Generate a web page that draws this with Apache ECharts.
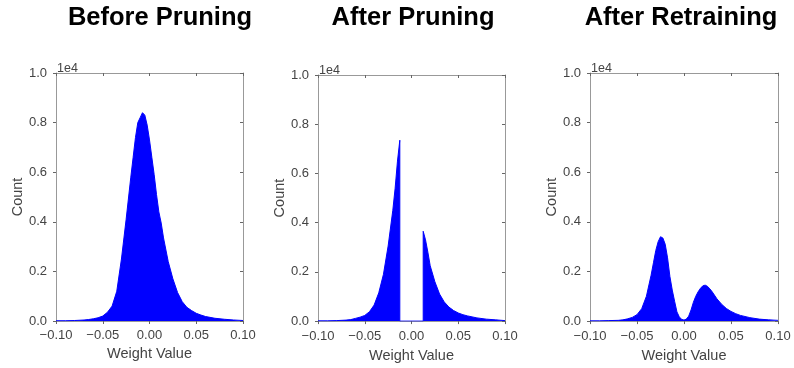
<!DOCTYPE html>
<html>
<head>
<meta charset="utf-8">
<script src="https://cdn.jsdelivr.net/npm/echarts@6/dist/echarts.min.js"></script>
<style>
  html, body { margin: 0; padding: 0; background: #fff; }
  #chart { width: 794px; height: 368px; }
</style>
</head>
<body>
<div id="chart"></div>
<script>
// ---- Data (counts in units of 1e4) ----
const panelTitles = ['Before Pruning', 'After Pruning', 'After Retraining'];
const xTickLabels = ['\u22120.10', '\u22120.05', '0.00', '0.05', '0.10'];
const yTickLabels = ['0.0', '0.2', '0.4', '0.6', '0.8', '1.0'];

const beforeX = [-0.1, -0.09, -0.08, -0.07, -0.065, -0.06, -0.055, -0.05, -0.045, -0.04, -0.035, -0.03, -0.025, -0.02, -0.0175, -0.015, -0.0125, -0.01, -0.0075, -0.005, -0.0025, 0, 0.0025, 0.005, 0.0075, 0.01, 0.0125, 0.015, 0.02, 0.025, 0.03, 0.035, 0.04, 0.045, 0.05, 0.055, 0.06, 0.07, 0.08, 0.09, 0.1];
const beforeY = [0.001, 0.001, 0.002, 0.004, 0.006, 0.009, 0.013, 0.02, 0.035, 0.06, 0.12, 0.25, 0.41, 0.58, 0.66, 0.74, 0.80, 0.82, 0.84, 0.83, 0.79, 0.73, 0.66, 0.59, 0.51, 0.44, 0.395, 0.335, 0.24, 0.17, 0.115, 0.078, 0.055, 0.042, 0.031, 0.024, 0.018, 0.011, 0.007, 0.004, 0.002];

const prunedX = [-0.1, -0.09, -0.08, -0.07, -0.065, -0.06, -0.055, -0.05, -0.045, -0.04, -0.035, -0.03, -0.025, -0.02, -0.0175, -0.015, -0.0125, -0.0125, 0.0125, 0.0125, 0.015, 0.0175, 0.02, 0.025, 0.03, 0.035, 0.04, 0.045, 0.05, 0.055, 0.06, 0.07, 0.08, 0.09, 0.1];
const prunedY = [0.001, 0.001, 0.002, 0.004, 0.006, 0.011, 0.016, 0.023, 0.038, 0.065, 0.115, 0.19, 0.305, 0.45, 0.54, 0.65, 0.735, 0, 0, 0.365, 0.33, 0.28, 0.225, 0.16, 0.11, 0.078, 0.057, 0.043, 0.033, 0.026, 0.021, 0.013, 0.008, 0.005, 0.002];

const retrainX = [-0.1, -0.09, -0.08, -0.07, -0.065, -0.06, -0.055, -0.05, -0.045, -0.04, -0.035, -0.0325, -0.03, -0.0275, -0.025, -0.0225, -0.02, -0.0175, -0.015, -0.0125, -0.01, -0.0075, -0.005, -0.0025, 0, 0.0025, 0.005, 0.0075, 0.01, 0.0125, 0.015, 0.0175, 0.02, 0.0225, 0.025, 0.0275, 0.03, 0.035, 0.04, 0.045, 0.05, 0.055, 0.06, 0.07, 0.08, 0.09, 0.1];
const retrainY = [0.001, 0.001, 0.002, 0.003, 0.005, 0.009, 0.015, 0.026, 0.05, 0.10, 0.185, 0.235, 0.285, 0.32, 0.34, 0.335, 0.31, 0.255, 0.18, 0.125, 0.08, 0.037, 0.017, 0.007, 0.004, 0.008, 0.02, 0.045, 0.076, 0.10, 0.118, 0.132, 0.142, 0.145, 0.14, 0.13, 0.118, 0.09, 0.068, 0.051, 0.039, 0.03, 0.023, 0.014, 0.008, 0.005, 0.003];

const panelX = [beforeX, prunedX, retrainX];
const panelY = [beforeY, prunedY, retrainY];

// ---- Layout ----
const grids = [
  { left: 56, top: 73, width: 187, height: 248 },
  { left: 318, top: 75, width: 187, height: 249 },
  { left: 590, top: 73, width: 188, height: 253 }
];
const titleCenters = [160, 413, 681];
const xLabelMargin = [8, 9, 9];
const xNameGap = [22, 23, 23];
const yNameGap = [31, 29, 31];

const FONT = '"Liberation Sans", Arial, Helvetica, sans-serif';
const TXT = '#444';
const X_MIN = -0.1, X_MAX = 0.1, X_INT = 0.05;
const Y_MIN = 0, Y_MAX = 1, Y_INT = 0.2;

const chart = echarts.init(document.getElementById('chart'), null, { renderer: 'canvas' });

const option = {
  backgroundColor: '#fff',
  animation: false,
  grid: grids.map(g => Object.assign({ show: false }, g)),
  xAxis: [],
  yAxis: [],
  series: [],
  graphic: []
};

const frameLine = { show: true, onZero: false, lineStyle: { color: '#999', width: 1 } };

grids.forEach((g, i) => {
  const tick = { show: true, length: 3, lineStyle: { color: '#666', width: 1 } };
  option.xAxis.push({
    gridIndex: i, type: 'value', position: 'bottom', min: X_MIN, max: X_MAX, interval: X_INT,
    axisLine: frameLine,
    axisTick: Object.assign({ inside: false }, tick),
    splitLine: { show: false },
    axisLabel: {
      margin: xLabelMargin[i], color: TXT, fontSize: 13, fontFamily: FONT,
      formatter: v => xTickLabels[Math.round((v - X_MIN) / X_INT)]
    },
    name: 'Weight Value', nameLocation: 'middle', nameGap: xNameGap[i],
    nameTextStyle: { color: TXT, fontSize: 14.5, fontFamily: FONT }
  });
  option.xAxis.push({
    gridIndex: i, type: 'value', position: 'top', min: X_MIN, max: X_MAX, interval: X_INT,
    axisLine: frameLine,
    axisTick: Object.assign({ inside: true }, tick),
    splitLine: { show: false }, axisLabel: { show: false }
  });
  option.yAxis.push({
    gridIndex: i, type: 'value', position: 'left', min: Y_MIN, max: Y_MAX, interval: Y_INT,
    axisLine: frameLine,
    axisTick: Object.assign({ inside: false }, tick),
    splitLine: { show: false },
    axisLabel: {
      margin: 9, color: TXT, fontSize: 13, fontFamily: FONT,
      formatter: v => yTickLabels[Math.round((v - Y_MIN) / Y_INT)]
    },
    name: 'Count', nameLocation: 'middle', nameGap: yNameGap[i],
    nameTextStyle: { color: TXT, fontSize: 14.5, fontFamily: FONT }
  });
  option.yAxis.push({
    gridIndex: i, type: 'value', position: 'right', min: Y_MIN, max: Y_MAX, interval: Y_INT,
    axisLine: frameLine,
    axisTick: Object.assign({ inside: true }, tick),
    splitLine: { show: false }, axisLabel: { show: false }
  });
  option.series.push({
    type: 'line',
    xAxisIndex: 2 * i, yAxisIndex: 2 * i,
    data: panelX[i].map((x, k) => [x, panelY[i][k]]),
    symbol: 'none', smooth: false,
    lineStyle: { color: '#0000ff', width: 1 },
    areaStyle: { color: '#0000ff', opacity: 1 },
    z: 1
  });
  option.graphic.push({
    type: 'text', x: titleCenters[i], y: 5,
    style: { text: panelTitles[i], fill: '#000', font: 'bold 25.5px ' + FONT, textAlign: 'center', textVerticalAlign: 'top' }
  });
  option.graphic.push({
    type: 'text', x: g.left + 1, y: g.top - 11,
    style: { text: '1e4', fill: TXT, font: '12.5px ' + FONT, textAlign: 'left', textVerticalAlign: 'top' }
  });
});

chart.setOption(option);
</script>
</body>
</html>
